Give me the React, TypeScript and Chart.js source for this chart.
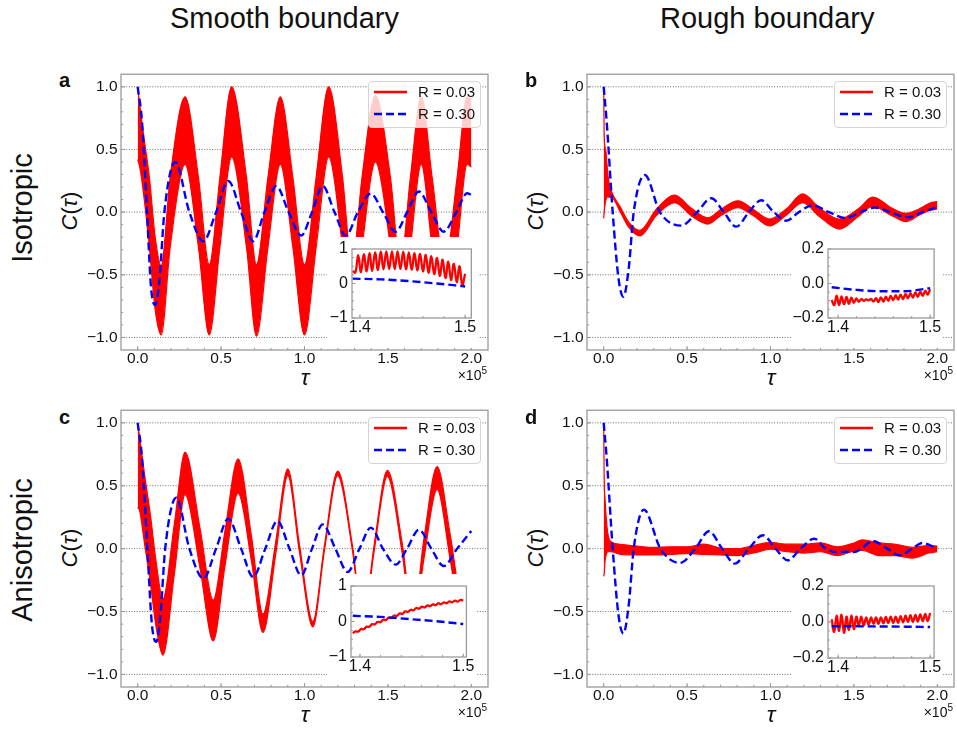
import React, { useEffect, useRef } from "react";
import { Chart, registerables } from "chart.js";

Chart.register(...registerables);

const RED = "#ff0000";
const BLUE = "#0000ff";
const FONT = "'Liberation Sans', Arial, Helvetica, sans-serif";

// ---------- ticks ----------
const X_TICKS = [0, 0.5, 1.0, 1.5, 2.0];
const Y_TICKS = [-1.0, -0.5, 0.0, 0.5, 1.0];
const INSET_X_TICKS = [1.4, 1.5];
const INSET_Y_TICKS_SMOOTH = [-1, 0, 1];
const INSET_Y_TICKS_ROUGH = [-0.2, 0.0, 0.2];

// ---------- panel a (smooth, isotropic) ----------
const A_BLUE_TAU = [0, 0.026, 0.056, 0.08, 0.105, 0.13, 0.16, 0.225, 0.31, 0.394, 0.47, 0.543, 0.62, 0.692, 0.76, 0.831, 0.905, 0.98, 1.045, 1.109, 1.18, 1.248, 1.32, 1.398, 1.47, 1.547, 1.615, 1.686, 1.76, 1.835, 1.91, 1.975, 2.0];
const A_BLUE_C = [1.0, 0.72, 0.0, -0.6, -0.74, -0.55, 0.0, 0.4, 0.0, -0.232, 0.0, 0.248, 0.0, -0.232, 0.0, 0.208, 0.0, -0.187, 0.0, 0.208, 0.0, -0.187, 0.0, 0.148, 0.0, -0.156, 0.0, 0.164, 0.0, -0.156, 0.0, 0.15, 0.137];
const A_RED_TAU = [0, 0.012, 0.035, 0.07, 0.105, 0.141, 0.195, 0.284, 0.364, 0.429, 0.493, 0.563, 0.652, 0.712, 0.781, 0.855, 0.93, 1.0, 1.07, 1.145, 1.228, 1.285, 1.345, 1.425, 1.515, 1.575, 1.635, 1.7, 1.765, 1.84, 1.915, 1.975, 2.0];
const A_RED_UPPER = [1.0, 0.86, 0.62, 0.28, -0.2, -0.43, 0.28, 0.92, 0.28, -0.42, 0.28, 1.0, 0.28, -0.42, 0.28, 0.92, 0.28, -0.42, 0.28, 1.0, 0.28, -0.42, 0.28, 0.93, 0.28, -0.42, 0.28, 0.92, 0.28, -0.42, 0.28, 0.92, 0.9];
const A_RED_LOWER = [0.42, 0.36, 0.15, -0.28, -0.78, -0.98, -0.28, 0.38, -0.28, -0.98, -0.28, 0.44, -0.28, -0.99, -0.28, 0.38, -0.28, -0.98, -0.28, 0.44, -0.28, -0.98, -0.28, 0.4, -0.28, -0.98, -0.28, 0.38, -0.28, -0.98, -0.28, 0.38, 0.36];

// ---------- panel b (rough, isotropic) ----------
const B_BLUE_TAU = [0, 0.018, 0.054, 0.088, 0.118, 0.15, 0.18, 0.247, 0.337, 0.466, 0.56, 0.645, 0.72, 0.795, 0.87, 0.944, 1.02, 1.094, 1.17, 1.253, 1.35, 1.45, 1.54, 1.625, 1.72, 1.82, 1.91, 2.0];
const B_BLUE_C = [1.0, 0.72, 0.0, -0.52, -0.675, -0.45, 0.0, 0.296, 0.0, -0.108, 0.0, 0.111, 0.0, -0.116, 0.0, 0.095, 0.0, -0.069, 0.0, 0.055, 0.0, -0.047, 0.0, 0.037, 0.0, -0.042, 0.0, 0.04];
const B_RED_TAU = [0, 0.003, 0.008, 0.014, 0.02, 0.03, 0.045, 0.1, 0.15, 0.217, 0.317, 0.426, 0.526, 0.625, 0.705, 0.805, 0.894, 0.994, 1.094, 1.193, 1.293, 1.412, 1.53, 1.612, 1.73, 1.81, 1.89, 1.96, 2.0];
const B_RED_UPPER = [1.0, 0.62, 0.52, 0.48, 0.38, 0.25, 0.17, 0.04, -0.08, -0.145, 0.025, 0.135, 0.03, -0.045, 0.025, 0.09, 0.025, -0.055, 0.025, 0.145, 0.035, -0.055, 0.03, 0.12, 0.03, -0.01, 0.025, 0.075, 0.085];
const B_RED_LOWER = [-0.05, 0.0, 0.06, 0.1, 0.12, 0.12, 0.12, 0.0, -0.12, -0.19, -0.025, 0.075, -0.03, -0.095, -0.025, 0.035, -0.025, -0.11, -0.025, 0.075, -0.035, -0.135, -0.03, 0.045, -0.03, -0.075, -0.025, 0.015, 0.025];

// ---------- panel c (smooth, anisotropic) ----------
const C_BLUE_TAU = [0, 0.026, 0.058, 0.085, 0.111, 0.135, 0.165, 0.231, 0.31, 0.394, 0.47, 0.543, 0.62, 0.692, 0.765, 0.837, 0.91, 0.98, 1.045, 1.109, 1.185, 1.258, 1.33, 1.398, 1.47, 1.547, 1.615, 1.686, 1.76, 1.835, 1.915, 2.0];
const C_BLUE_C = [1.0, 0.72, 0.0, -0.6, -0.741, -0.55, 0.0, 0.405, 0.0, -0.238, 0.0, 0.238, 0.0, -0.225, 0.0, 0.22, 0.0, -0.212, 0.0, 0.193, 0.0, -0.185, 0.0, 0.167, 0.0, -0.127, 0.0, 0.151, 0.0, -0.138, 0.0, 0.14];
const C_RED_TAU = [0, 0.012, 0.04, 0.076, 0.11, 0.151, 0.22, 0.284, 0.374, 0.453, 0.523, 0.602, 0.682, 0.751, 0.827, 0.9, 0.97, 1.05, 1.119, 1.199, 1.288, 1.35, 1.417, 1.497, 1.586, 1.65, 1.716, 1.795, 1.875, 1.95, 2.0];
const C_RED_UPPER = [1.0, 0.88, 0.6, 0.27, -0.1, -0.4, 0.2, 0.767, 0.16, -0.41, 0.14, 0.714, 0.1, -0.52, 0.05, 0.635, 0.03, -0.58, 0.02, 0.616, 0.02, -0.58, 0.025, 0.622, 0.04, -0.55, 0.08, 0.653, 0.1, -0.45, -0.35];
const C_RED_LOWER = [0.33, 0.3, 0.05, -0.27, -0.62, -0.847, -0.2, 0.43, -0.16, -0.733, -0.14, 0.44, -0.1, -0.667, -0.05, 0.58, -0.03, -0.622, -0.02, 0.58, -0.02, -0.62, -0.025, 0.575, -0.04, -0.64, -0.08, 0.47, -0.1, -0.65, -0.55];

// ---------- panel d (rough, anisotropic) ----------
const D_BLUE_TAU = [0, 0.018, 0.054, 0.088, 0.118, 0.15, 0.18, 0.241, 0.34, 0.456, 0.55, 0.631, 0.71, 0.785, 0.87, 0.954, 1.03, 1.104, 1.18, 1.263, 1.33, 1.4, 1.45, 1.5, 1.545, 1.612, 1.7, 1.771, 1.85, 1.91, 2.0];
const D_BLUE_C = [1.0, 0.72, 0.0, -0.52, -0.675, -0.45, 0.0, 0.31, 0.0, -0.114, 0.0, 0.138, 0.0, -0.119, 0.0, 0.106, 0.0, -0.093, 0.0, 0.079, 0.0, -0.028, -0.024, -0.028, 0.0, 0.061, 0.0, -0.053, 0.0, 0.045, 0.0];
const D_RED_TAU = [0, 0.003, 0.008, 0.015, 0.025, 0.04, 0.1, 0.2, 0.3, 0.4, 0.5, 0.6, 0.7, 0.8, 0.9, 1.0, 1.1, 1.2, 1.3, 1.4, 1.5, 1.55, 1.65, 1.75, 1.85, 1.95, 2.0];
const D_RED_UPPER = [1.0, 0.56, 0.4, 0.25, 0.12, 0.06, 0.035, 0.02, 0.01, 0.015, 0.015, 0.035, 0.005, 0.0, 0.025, 0.05, 0.035, 0.035, 0.045, 0.015, 0.045, 0.07, 0.045, 0.035, 0.01, 0.025, 0.02];
const D_RED_LOWER = [-0.22, -0.2, -0.1, -0.05, -0.025, -0.025, -0.045, -0.05, -0.05, -0.045, -0.04, -0.045, -0.05, -0.055, -0.035, -0.005, -0.025, -0.035, -0.025, -0.055, -0.02, -0.015, -0.055, -0.055, -0.075, -0.035, -0.025];

// ---------- insets (tau from 1.393e5 to 1.5e5) ----------
const INSET_TAU = [1.393, 1.3957, 1.3984, 1.401, 1.4037, 1.4064, 1.4091, 1.4117, 1.4144, 1.4171, 1.4198, 1.4224, 1.4251, 1.4278, 1.4305, 1.4331, 1.4358, 1.4385, 1.4412, 1.4438, 1.4465, 1.4492, 1.4519, 1.4545, 1.4572, 1.4599, 1.4626, 1.4652, 1.4679, 1.4706, 1.4733, 1.4759, 1.4786, 1.4813, 1.484, 1.4866, 1.4893, 1.492, 1.4947, 1.4973, 1.5];
const A_INSET_RED = [0.36, 0.32, 0.82, 0.33, 0.85, 0.35, 0.88, 0.37, 0.9, 0.39, 0.92, 0.41, 0.93, 0.42, 0.93, 0.42, 0.93, 0.42, 0.92, 0.41, 0.9, 0.4, 0.88, 0.38, 0.86, 0.35, 0.83, 0.31, 0.79, 0.27, 0.74, 0.22, 0.69, 0.16, 0.63, 0.1, 0.57, 0.04, 0.5, -0.05, 0.28];
const B_INSET_RED = [-0.096, -0.125, -0.07, -0.125, -0.075, -0.12, -0.078, -0.118, -0.082, -0.112, -0.086, -0.106, -0.09, -0.1, -0.092, -0.098, -0.09, -0.104, -0.085, -0.108, -0.08, -0.105, -0.076, -0.1, -0.072, -0.097, -0.068, -0.094, -0.064, -0.09, -0.06, -0.086, -0.056, -0.082, -0.052, -0.078, -0.047, -0.072, -0.042, -0.065, -0.033];
const C_INSET_RED = [-0.33, -0.28, -0.285, -0.21, -0.22, -0.145, -0.15, -0.075, -0.08, -0.01, -0.02, 0.05, 0.04, 0.11, 0.1, 0.17, 0.16, 0.23, 0.215, 0.285, 0.27, 0.33, 0.315, 0.38, 0.36, 0.42, 0.395, 0.455, 0.43, 0.485, 0.46, 0.515, 0.49, 0.54, 0.515, 0.568, 0.54, 0.59, 0.56, 0.61, 0.59];
const D_INSET_RED = [0.015, -0.055, 0.035, -0.05, 0.04, -0.06, 0.03, -0.045, 0.035, -0.04, 0.03, -0.02, 0.03, -0.02, 0.025, -0.015, 0.025, -0.01, 0.025, -0.01, 0.025, -0.008, 0.028, -0.005, 0.03, -0.005, 0.03, -0.005, 0.032, -0.002, 0.035, 0.0, 0.038, 0.0, 0.04, 0.002, 0.042, 0.005, 0.045, 0.005, 0.05];
const INSET_BLUE_TAU = [1.393, 1.42, 1.447, 1.473, 1.5];
const A_INSET_BLUE = [0.14, 0.12, 0.07, 0.0, -0.085];
const B_INSET_BLUE = [-0.022, -0.037, -0.045, -0.045, -0.027];
const C_INSET_BLUE = [0.16, 0.13, 0.07, 0.01, -0.07];
const D_INSET_BLUE = [-0.024, -0.024, -0.025, -0.026, -0.028];

// ---------- helpers ----------
const zip = (xs: number[], ys: number[]) => xs.map((x, i) => ({ x, y: ys[i] }));
const minus = (s: string) => s.replace("-", "\u2212");

const decorPlugin = {
  id: "decor",
  beforeDatasetsDraw(chart: any, _a: any, o: any) {
    if (!o.grid) return;
    const { ctx, chartArea: a } = chart;
    const ys = chart.scales.y;
    ctx.save();
    ctx.strokeStyle = "#4a4a4a";
    ctx.lineWidth = 0.8;
    ctx.setLineDash([1, 1.6]);
    ys.ticks.forEach((t: any) => {
      const py = ys.getPixelForValue(t.value);
      ctx.beginPath();
      ctx.moveTo(a.left, py);
      ctx.lineTo(a.right, py);
      ctx.stroke();
    });
    ctx.restore();
  },
  afterDatasetsDraw(chart: any, _a: any, o: any) {
    const { ctx, chartArea: a } = chart;
    const xs = chart.scales.x;
    const ys = chart.scales.y;
    ctx.save();
    ctx.strokeStyle = "#9a9a9a";
    ctx.lineWidth = 1;
    const inside = (p: number, lo: number, hi: number) => p > lo + 1.5 && p < hi - 1.5;
    for (let k = Math.ceil(xs.min / o.xMinor - 1e-6); k * o.xMinor <= xs.max + 1e-9; k++) {
      const px = xs.getPixelForValue(k * o.xMinor);
      if (!inside(px, a.left, a.right)) continue;
      ctx.beginPath();
      ctx.moveTo(px, a.bottom);
      ctx.lineTo(px, a.bottom - o.minor);
      ctx.stroke();
    }
    for (let k = Math.ceil(ys.min / o.yMinor - 1e-6); k * o.yMinor <= ys.max + 1e-9; k++) {
      const py = ys.getPixelForValue(k * o.yMinor);
      if (!inside(py, a.top, a.bottom)) continue;
      ctx.beginPath();
      ctx.moveTo(a.left, py);
      ctx.lineTo(a.left + o.minor, py);
      ctx.stroke();
    }
    xs.ticks.forEach((t: any) => {
      const px = xs.getPixelForValue(t.value);
      ctx.beginPath();
      ctx.moveTo(px, a.bottom);
      ctx.lineTo(px, a.bottom - o.major);
      ctx.stroke();
    });
    ys.ticks.forEach((t: any) => {
      const py = ys.getPixelForValue(t.value);
      ctx.beginPath();
      ctx.moveTo(a.left, py);
      ctx.lineTo(a.left + o.major, py);
      ctx.stroke();
    });
    ctx.lineWidth = 1.3;
    ctx.strokeRect(a.left, a.top, a.right - a.left, a.bottom - a.top);
    ctx.restore();
  },
};

type MainSpec = {
  blueTau: number[]; blueC: number[];
  redTau: number[]; redUpper: number[]; redLower: number[];
};

const NO_GRID = { display: false, drawTicks: false, drawOnChartArea: false };

function mainConfig(p: MainSpec): any {
  const common = { pointRadius: 0, cubicInterpolationMode: "monotone" };
  return {
    type: "line",
    data: {
      datasets: [
        { ...common, label: "R = 0.30", data: zip(p.blueTau, p.blueC), borderColor: BLUE, borderWidth: 2.4, borderDash: [8, 4], fill: false, order: 0 },
        { ...common, label: "R = 0.03", data: zip(p.redTau, p.redUpper), borderColor: RED, backgroundColor: RED, borderWidth: 1.2, fill: "+1", order: 1 },
        { ...common, label: "R = 0.03 (lower)", data: zip(p.redTau, p.redLower), borderColor: RED, borderWidth: 1.2, fill: false, order: 2 },
      ],
    },
    plugins: [decorPlugin],
    options: {
      responsive: false,
      animation: false,
      events: [],
      layout: { padding: { top: 10, right: 3, left: 0, bottom: 0 } },
      plugins: {
        legend: { display: false },
        tooltip: { enabled: false },
        decor: { grid: true, xMinor: 0.1, yMinor: 0.1, major: 4, minor: 2.2 },
      },
      scales: {
        x: {
          type: "linear", min: -0.1, max: 2.1,
          grid: NO_GRID, border: { display: false },
          afterBuildTicks: (s: any) => { s.ticks = X_TICKS.map((v) => ({ value: v })); },
          afterFit: (s: any) => { s.height = 22; },
          ticks: { padding: 1, autoSkip: false, maxRotation: 0, color: "#111", font: { family: FONT, size: 15.5, lineHeight: 1 }, callback: (v: any) => Number(v).toFixed(1) },
        },
        y: {
          type: "linear", min: -1.1, max: 1.1,
          grid: NO_GRID, border: { display: false },
          afterBuildTicks: (s: any) => { s.ticks = Y_TICKS.map((v) => ({ value: v })); },
          afterFit: (s: any) => { s.width = 37; },
          ticks: { padding: 3.5, autoSkip: false, color: "#111", font: { family: FONT, size: 15.5, lineHeight: 1 }, callback: (v: any) => minus(Number(v).toFixed(1)) },
        },
      },
    },
  };
}

type InsetSpec = {
  red: number[]; blue: number[]; xMin: number; xMax: number; yTicks: number[];
  yW: number; padTop: number; padRight: number; xH: number; yMinor: number; digits: number;
};

function insetConfig(p: InsetSpec): any {
  const yMin = p.yTicks[0];
  const yMax = p.yTicks[p.yTicks.length - 1];
  return {
    type: "line",
    data: {
      datasets: [
        { label: "R = 0.30", data: zip(INSET_BLUE_TAU, p.blue), borderColor: BLUE, borderWidth: 2.4, borderDash: [8, 4], pointRadius: 0, cubicInterpolationMode: "monotone", fill: false, order: 0 },
        { label: "R = 0.03", data: zip(INSET_TAU, p.red), borderColor: RED, borderWidth: 2.3, pointRadius: 0, tension: 0.4, fill: false, order: 1 },
      ],
    },
    plugins: [decorPlugin],
    options: {
      responsive: false,
      animation: false,
      events: [],
      layout: { padding: { top: p.padTop, right: p.padRight, left: 0, bottom: 0 } },
      plugins: {
        legend: { display: false },
        tooltip: { enabled: false },
        decor: { grid: false, xMinor: 0.02, yMinor: p.yMinor, major: 3.5, minor: 2 },
      },
      scales: {
        x: {
          type: "linear", min: p.xMin, max: p.xMax,
          grid: NO_GRID, border: { display: false },
          afterBuildTicks: (s: any) => { s.ticks = INSET_X_TICKS.map((v) => ({ value: v })); },
          afterFit: (s: any) => { s.height = p.xH; },
          ticks: { padding: 1.5, autoSkip: false, maxRotation: 0, color: "#111", font: { family: FONT, size: 16, lineHeight: 1 }, callback: (v: any) => Number(v).toFixed(1) },
        },
        y: {
          type: "linear", min: yMin, max: yMax,
          grid: NO_GRID, border: { display: false },
          afterBuildTicks: (s: any) => { s.ticks = p.yTicks.map((v) => ({ value: v })); },
          afterFit: (s: any) => { s.width = p.yW; },
          ticks: { padding: 4, autoSkip: false, color: "#111", font: { family: FONT, size: 16, lineHeight: 1 }, callback: (v: any) => minus(Number(v).toFixed(p.digits)) },
        },
      },
    },
  };
}

function ChartCanvas(props: { left: number; top: number; width: number; height: number; make: () => any; bg?: string }) {
  const ref = useRef<HTMLCanvasElement | null>(null);
  useEffect(() => {
    const chart = new Chart(ref.current as HTMLCanvasElement, props.make());
    return () => chart.destroy();
  }, []);
  return (
    <canvas
      ref={ref}
      width={props.width}
      height={props.height}
      style={{ position: "absolute", left: props.left, top: props.top, width: props.width, height: props.height, background: props.bg || "transparent" }}
    />
  );
}

function Legend(props: { left: number; top: number }) {
  const row = (y: number, dashed: boolean, color: string, label: string) => (
    <>
      <svg style={{ position: "absolute", left: 4, top: y - 3, overflow: "visible" }} width={36} height={6}>
        <line x1={1} y1={3} x2={34} y2={3} stroke={color} strokeWidth={2.4} strokeDasharray={dashed ? "8 4" : undefined} />
      </svg>
      <div style={{ position: "absolute", left: 49, top: y - 8, fontSize: 15, lineHeight: "16px", whiteSpace: "nowrap", color: "#111" }}>{label}</div>
    </>
  );
  return (
    <div
      style={{
        position: "absolute", left: props.left, top: props.top, width: 113, height: 47, boxSizing: "border-box",
        border: "1px solid #d4d4d4", borderRadius: 4, background: "rgba(255,255,255,0.8)", fontFamily: FONT,
      }}
    >
      {row(10, false, RED, "R = 0.03")}
      {row(32, true, BLUE, "R = 0.30")}
    </div>
  );
}

const abs = (extra: any) => ({ position: "absolute" as const, fontFamily: FONT, color: "#111", whiteSpace: "nowrap" as const, ...extra });

function AxisTexts(props: { dx: number; dy: number; cx: number; letter: string; letterLeft: number }) {
  const { dx, dy } = props;
  return (
    <>
      <div style={abs({ left: props.letterLeft, top: 70 + dy, fontSize: 20, lineHeight: "20px", fontWeight: "bold" })}>{props.letter}</div>
      <div style={abs({ left: 70 + dx, top: 211 + dy, fontSize: 22, lineHeight: "22px", transform: "translate(-50%,-50%) rotate(-90deg)" })}>
        <i>C</i>(<i>τ</i>)
      </div>
      <div style={abs({ left: props.cx, top: 377 + dy, fontSize: 23, lineHeight: "23px", transform: "translate(-50%,-50%)" })}>
        <i>τ</i>
      </div>
      <div style={abs({ right: 957 - (487 + dx), top: 368 + dy, fontSize: 14, lineHeight: "14px" })}>
        ×10<span style={{ fontSize: 10, position: "relative", top: -6 }}>5</span>
      </div>
    </>
  );
}

export default function App() {
  const panelA: MainSpec = { blueTau: A_BLUE_TAU, blueC: A_BLUE_C, redTau: A_RED_TAU, redUpper: A_RED_UPPER, redLower: A_RED_LOWER };
  const panelB: MainSpec = { blueTau: B_BLUE_TAU, blueC: B_BLUE_C, redTau: B_RED_TAU, redUpper: B_RED_UPPER, redLower: B_RED_LOWER };
  const panelC: MainSpec = { blueTau: C_BLUE_TAU, blueC: C_BLUE_C, redTau: C_RED_TAU, redUpper: C_RED_UPPER, redLower: C_RED_LOWER };
  const panelD: MainSpec = { blueTau: D_BLUE_TAU, blueC: D_BLUE_C, redTau: D_RED_TAU, redUpper: D_RED_UPPER, redLower: D_RED_LOWER };

  return (
    <div style={{ position: "absolute", left: 0, top: 0, width: 957, height: 729, background: "#fff", overflow: "hidden", fontFamily: FONT }}>
      <ChartCanvas left={84} top={63} width={407} height={309} make={() => mainConfig(panelA)} />
      <ChartCanvas left={550} top={63} width={407} height={309} make={() => mainConfig(panelB)} />
      <ChartCanvas left={84} top={399} width={407} height={310} make={() => mainConfig(panelC)} />
      <ChartCanvas left={550} top={399} width={407} height={310} make={() => mainConfig(panelD)} />

      <ChartCanvas left={327} top={237} width={151} height={111} bg="#fff"
        make={() => insetConfig({ red: A_INSET_RED, blue: A_INSET_BLUE, xMin: 1.3925, xMax: 1.5059, yTicks: INSET_Y_TICKS_SMOOTH, yW: 25, padTop: 8, padRight: 5, xH: 30, yMinor: 0.25, digits: 0 })} />
      <ChartCanvas left={792} top={237} width={151} height={111} bg="#fff"
        make={() => insetConfig({ red: B_INSET_RED, blue: B_INSET_BLUE, xMin: 1.389, xMax: 1.5043, yTicks: INSET_Y_TICKS_ROUGH, yW: 36, padTop: 8, padRight: 7, xH: 30, yMinor: 0.05, digits: 1 })} />
      <ChartCanvas left={327} top={574} width={149} height={110} bg="#fff"
        make={() => insetConfig({ red: C_INSET_RED, blue: C_INSET_BLUE, xMin: 1.3913, xMax: 1.5031, yTicks: INSET_Y_TICKS_SMOOTH, yW: 24, padTop: 9, padRight: 6, xH: 27, yMinor: 0.25, digits: 0 })} />
      <ChartCanvas left={792} top={574} width={151} height={110} bg="#fff"
        make={() => insetConfig({ red: D_INSET_RED, blue: D_INSET_BLUE, xMin: 1.389, xMax: 1.5043, yTicks: INSET_Y_TICKS_ROUGH, yW: 36, padTop: 9, padRight: 7, xH: 26, yMinor: 0.05, digits: 1 })} />

      <Legend left={368} top={81} />
      <Legend left={834} top={81} />
      <Legend left={368} top={417} />
      <Legend left={834} top={417} />

      <div style={abs({ left: 170, top: 4, fontSize: 29, lineHeight: "29px" })}>Smooth boundary</div>
      <div style={abs({ left: 660, top: 4, fontSize: 29, lineHeight: "29px" })}>Rough boundary</div>
      <div style={abs({ left: 22, top: 208, fontSize: 29, lineHeight: "29px", transform: "translate(-50%,-50%) rotate(-90deg)" })}>Isotropic</div>
      <div style={abs({ left: 22, top: 550, fontSize: 29, lineHeight: "29px", transform: "translate(-50%,-50%) rotate(-90deg)" })}>Anisotropic</div>

      <AxisTexts dx={0} dy={0} cx={305} letter="a" letterLeft={59} />
      <AxisTexts dx={466} dy={0} cx={771} letter="b" letterLeft={525} />
      <AxisTexts dx={0} dy={337} cx={305} letter="c" letterLeft={59} />
      <AxisTexts dx={466} dy={337} cx={771} letter="d" letterLeft={525} />
    </div>
  );
}
